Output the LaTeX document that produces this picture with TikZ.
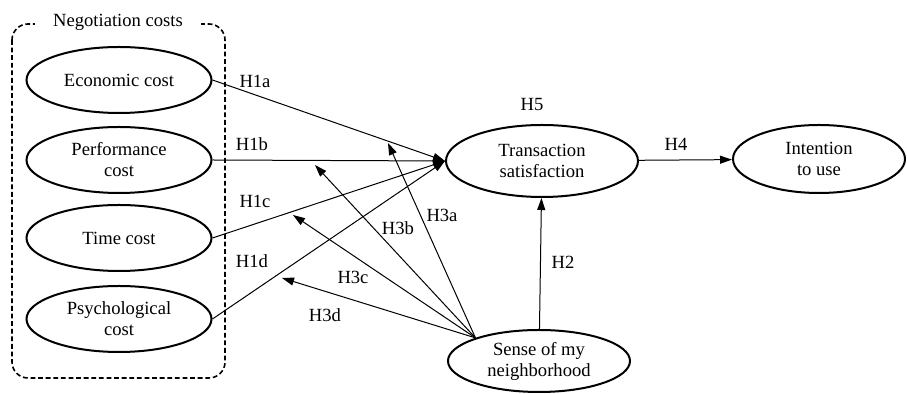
\documentclass[tikz,border=0pt]{standalone}
\usepackage{fontspec}
\setmainfont{Liberation Serif}
\usetikzlibrary{shapes.geometric,arrows.meta}
\tikzstyle{construct}=[ellipse,draw,line width=1pt,inner sep=0pt,align=center,font=\fontsize{9.3}{10.5}\selectfont]
\tikzstyle{costvar}=[construct,minimum width=92.5pt,minimum height=33pt]
\tikzstyle{hyp}=[inner sep=0pt,font=\fontsize{9.3}{11}\selectfont]
\tikzstyle{groupbox}=[line width=0.8pt,dash pattern=on 2.4pt off 1.4pt,rounded corners=8pt]

\begin{document}
\begin{tikzpicture}[x=0.5pt,y=-0.5pt,>={Triangle[length=6pt,width=4pt]},line width=0.5pt]
\useasboundingbox (0,0) rectangle (907,394);
% group of cost constructs
\draw[groupbox] (12,24) rectangle (225,378);
\node[fill=white,inner xsep=9pt,inner ysep=1pt,font=\fontsize{9.3}{11}\selectfont] at (118,22) (group) {Negotiation costs};
\node[costvar] at (119, 80) (eco) {Economic cost};
\node[costvar] at (119, 160) (perf) {Performance\\cost};
\node[costvar] at (119, 238) (time) {Time cost};
\node[costvar] at (119, 319) (psy) {Psychological\\cost};
\node[construct,minimum width=96pt,minimum height=36pt] at (542, 161) (trans) {Transaction\\satisfaction};
\node[construct,minimum width=86pt,minimum height=34pt] at (819, 159) (intent) {Intention\\to use};
\node[construct,minimum width=91pt,minimum height=31pt] at (539, 361) (sense) {Sense of my\\neighborhood};
% free ends of the H3 arrows
\coordinate (t3a) at (388, 143);
\coordinate (t3b) at (315, 165);
\coordinate (t3c) at (293, 215);
\coordinate (t3d) at (282, 278);
\draw[->] (eco.east) -- (trans.west);
\draw[->] (perf.east) -- (trans.west);
\draw[->] (time.east) -- (trans.west);
\draw[->] (psy.east) -- (trans.west);
\draw[->] (sense) -- (trans);
\draw[->] (trans) -- (intent);
\draw[->] (sense.160) -- (t3a);
\draw[->] (sense.160) -- (t3b);
\draw[->] (sense.160) -- (t3c);
\draw[->] (sense.160) -- (t3d);
% hypothesis labels
\node[hyp] at (255, 81) (h1a) {H1a};
\node[hyp] at (252, 144) (h1b) {H1b};
\node[hyp] at (255, 201) (h1c) {H1c};
\node[hyp] at (252, 261) (h1d) {H1d};
\node[hyp] at (532, 105) (h5) {H5};
\node[hyp] at (676, 144) (h4) {H4};
\node[hyp] at (563, 262) (h2) {H2};
\node[hyp] at (442, 215) (h3a) {H3a};
\node[hyp] at (398, 228) (h3b) {H3b};
\node[hyp] at (353, 277) (h3c) {H3c};
\node[hyp] at (325, 315) (h3d) {H3d};
\end{tikzpicture}
\end{document}
